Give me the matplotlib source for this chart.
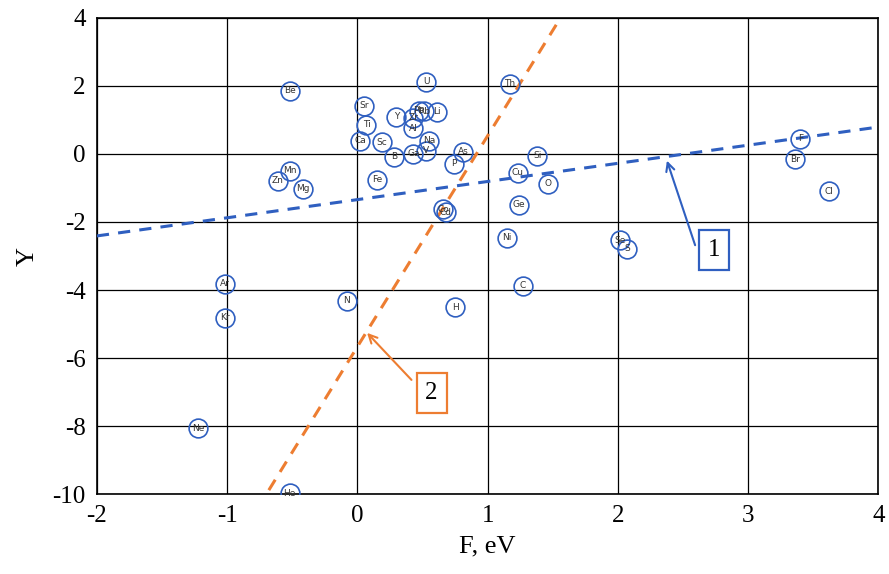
import matplotlib
matplotlib.use("Agg")
import matplotlib.pyplot as plt
import numpy as np

plt.rcParams["axes.unicode_minus"] = False

elements = ["Be", "U", "Th", "Sr", "Ti", "Y", "Zr", "Pb", "Rb", "Li", "Al", "Ca", "Sc",
            "Na", "V", "Ga", "B", "As", "P", "Si", "Cu", "O", "Ge", "Fe", "Mn", "Zn", "Mg",
            "Co", "Cd", "Ni", "C", "Se", "S", "F", "Br", "Cl", "Ar", "Kr", "N", "H", "Ne", "He"]
F_vals = [-0.52, 0.53, 1.17, 0.05, 0.07, 0.30, 0.43, 0.47, 0.51, 0.61, 0.43, 0.02, 0.19,
          0.55, 0.53, 0.43, 0.28, 0.81, 0.74, 1.38, 1.23, 1.46, 1.24, 0.15, -0.52, -0.61, -0.42,
          0.66, 0.68, 1.15, 1.27, 2.02, 2.07, 3.40, 3.36, 3.62, -1.02, -1.02, -0.08, 0.75, -1.22, -0.52]
Y_vals = [1.85, 2.12, 2.06, 1.41, 0.85, 1.09, 1.06, 1.27, 1.25, 1.24, 0.76, 0.38, 0.35,
          0.38, 0.09, 0.00, -0.09, 0.06, -0.29, -0.06, -0.56, -0.88, -1.50, -0.76, -0.50, -0.79, -1.03,
          -1.62, -1.71, -2.47, -3.88, -2.53, -2.79, 0.44, -0.15, -1.09, -3.82, -4.82, -4.32, -4.50, -8.06, -9.97]

line1_x = [-2.0, 4.0]
line1_y = [-2.41, 0.79]
line2_x = [-0.68, 1.56]
line2_y = [-9.88, 4.0]

xticks = [-2, -1, 0, 1, 2, 3, 4]
yticks = [-10, -8, -6, -4, -2, 0, 2, 4]

blue = "#2f5fc0"
orange = "#ed7d31"
serif = "Liberation Serif"

fig = plt.figure(figsize=(8.89, 5.74), dpi=100)
ax = fig.add_axes([0.109, 0.139, 0.879, 0.830])
ax.set_xlim(-2, 4)
ax.set_ylim(-10, 4)
ax.set_xticks(xticks)
ax.set_yticks(yticks)
ax.grid(True, color="black", linewidth=0.9)
ax.set_axisbelow(True)
ax.tick_params(length=0, labelsize=18, pad=8)
for lab in ax.get_xticklabels() + ax.get_yticklabels():
    lab.set_fontfamily(serif)
for s in ax.spines.values():
    s.set_color("black")
    s.set_linewidth(1.2)

ax.plot(line1_x, line1_y, linestyle=(0, (4, 3)), color=blue, linewidth=2.2, zorder=3)
ax.plot(line2_x, line2_y, linestyle=(0, (4, 3)), color=orange, linewidth=2.2, zorder=3)

ax.plot(F_vals, Y_vals, linestyle="none", marker="o", markersize=13.5,
        markerfacecolor="none", markeredgecolor=blue, markeredgewidth=1.2, zorder=4)
for name, fx, fy in zip(elements, F_vals, Y_vals):
    ax.text(fx, fy, name, fontsize=6.5, ha="center", va="center", color="#333333",
            family="DejaVu Sans", zorder=5)

# annotations
ax.annotate("", xy=(2.37, -0.12), xytext=(2.60, -2.76),
            arrowprops=dict(arrowstyle="->", color=blue, lw=1.5, mutation_scale=15), zorder=6)
ax.text(2.74, -2.82, "1", fontsize=18, family=serif, ha="center", va="center", zorder=7,
        bbox=dict(boxstyle="square,pad=0.35", facecolor="white", edgecolor=blue, linewidth=1.6))
ax.annotate("", xy=(0.06, -5.2), xytext=(0.43, -6.7),
            arrowprops=dict(arrowstyle="->", color=orange, lw=1.5, mutation_scale=15), zorder=6)
ax.text(0.57, -7.03, "2", fontsize=18, family=serif, ha="center", va="center", zorder=7,
        bbox=dict(boxstyle="square,pad=0.35", facecolor="white", edgecolor=orange, linewidth=1.6))

ax.set_xlabel("F, eV", fontsize=19, family=serif, labelpad=6)
ax.set_ylabel("Y", fontsize=19, family=serif, labelpad=10)

fig.savefig("out.png", dpi=100)
